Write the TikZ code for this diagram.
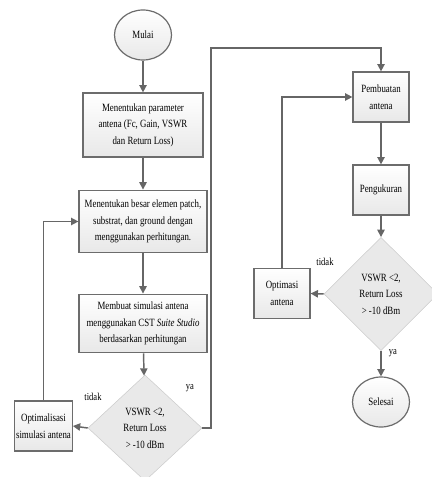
\documentclass[tikz,border=0pt]{standalone}
\usepackage{fontspec}
\setmainfont{Liberation Serif}[FakeStretch=0.8]
\usepackage{tikz}
\usetikzlibrary{shapes.geometric,arrows.meta}

\tikzset{
  langkah/.style={rectangle,draw=gray!85!black,line width=0.9pt,top color=white,bottom color=gray!18,
    align=center,inner sep=1pt,font=\fontsize{8.3}{12.4}\selectfont},
  terminal/.style={ellipse,draw=gray!85!black,line width=0.9pt,top color=white,bottom color=gray!18,
    minimum width=42.75pt,minimum height=37.5pt,inner sep=0pt,font=\fontsize{8.3}{12.4}\selectfont},
  keputusan/.style={diamond,draw=gray!40,fill=gray!17,align=center,inner sep=0pt,
    font=\fontsize{8.3}{12.4}\selectfont},
  alur/.style={draw=gray!80!black,line width=1.1pt,-{Triangle[length=5.5pt,width=5.5pt]}},
  ket/.style={font=\fontsize{8}{10}\selectfont}
}

\begin{document}
\begin{tikzpicture}[x=0.75pt,y=-0.75pt]
    % Fix the page size
    \useasboundingbox (0,0) rectangle (431,477);

    % Left column
    \node[terminal] (mulai) at (143,35) {Mulai};
    \node[langkah,minimum width=90pt,minimum height=48pt] (param) at (143,125)
      {Menentukan parameter\\antena (Fc, Gain, VSWR\\dan Return Loss)};
    \node[langkah,minimum width=96pt,minimum height=47pt] (elemen) at (143,221.5)
      {Menentukan besar elemen patch,\\substrat, dan ground dengan\\menggunakan perhitungan.};
    \node[langkah,minimum width=96pt,minimum height=44pt] (simulasi) at (143,323.5)
      {Membuat simulasi antena\\menggunakan CST \textit{Suite Studio}\\berdasarkan perhitungan};
    \node[keputusan,minimum width=85.5pt,minimum height=79.5pt] (cek1) at (145,428)
      {VSWR <2,\\Return Loss\\> -10 dBm};
    \node[langkah,minimum width=41.25pt,minimum height=37.5pt] (optsim) at (43.5,426)
      {Optimalisasi\\simulasi antena};

    % Right column
    \node[langkah,minimum width=42pt,minimum height=37.5pt] (buat) at (381,97)
      {Pembuatan\\antena};
    \node[langkah,minimum width=42pt,minimum height=37.5pt] (ukur) at (381,190)
      {Pengukuran};
    \node[keputusan,minimum width=85.5pt,minimum height=85pt] (cek2) at (381,294)
      {VSWR <2,\\Return Loss\\> -10 dBm};
    \node[langkah,minimum width=42pt,minimum height=38pt] (optant) at (282,293.5)
      {Optimasi\\antena};
    \node[terminal] (selesai) at (381,402) {Selesai};

    % Bend point of the long connector
    \coordinate (belok) at (211,48);

    % Connectors of the left column
    \draw[alur] (mulai) -- (param);
    \draw[alur] (param) -- (elemen);
    \draw[alur] (elemen) -- (simulasi);
    \draw[alur] (simulasi) -- (cek1);
    \draw[alur] (cek1.west) -- (optsim.east);
    \draw[alur] (optsim.north) |- (elemen.west);
    \draw[alur] (cek1.east) -| (belok) -| (buat.north);

    % Connectors of the right column
    \draw[alur] (buat) -- (ukur);
    \draw[alur] (ukur) -- (cek2);
    \draw[alur] (cek2.west) -- (optant.east);
    \draw[alur] (optant.north) |- (buat.west);
    \draw[alur] (cek2.south) -- (selesai);

    % Labels
    \node[ket] (tidak1) at (93,397) {tidak};
    \node[ket] (ya1) at (190,388) {ya};
    \node[ket] (tidak2) at (325,262) {tidak};
    \node[ket] (ya2) at (393,353) {ya};
\end{tikzpicture}
\end{document}
